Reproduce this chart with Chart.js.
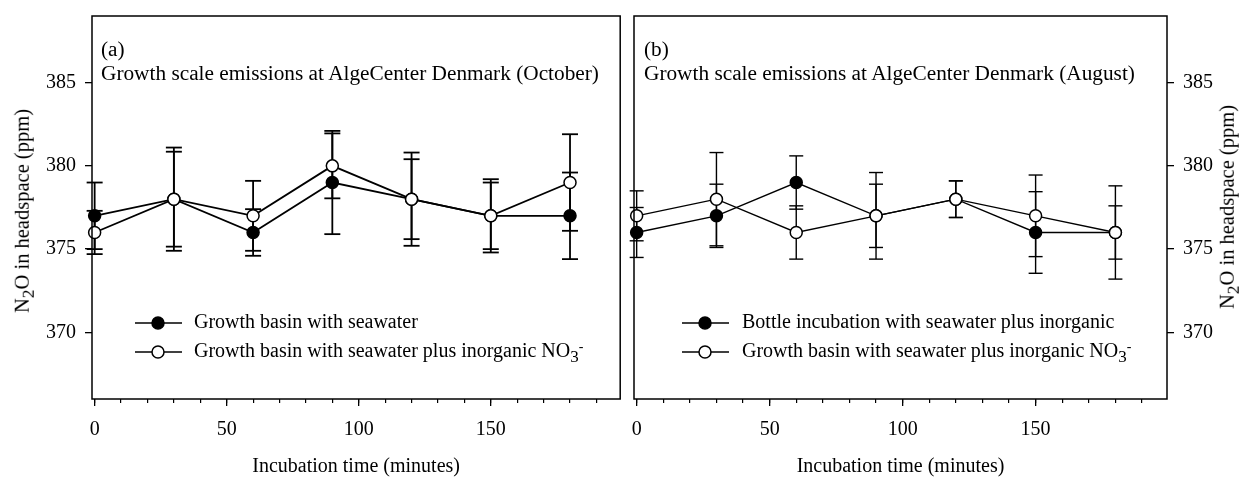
<!DOCTYPE html>
<html>
<head>
<meta charset="utf-8">
<script src="https://cdn.jsdelivr.net/npm/chart.js@4.4.0/dist/chart.umd.min.js"></script>
<style>
  html, body { margin: 0; padding: 0; background: #fff; }
  #page { position: relative; width: 1240px; height: 478px; overflow: hidden;
          font-family: 'Liberation Serif', 'Times New Roman', serif; color: #000; }
  canvas { position: absolute; top: 0; }
  .note { position: absolute; white-space: nowrap; line-height: 1; font-size: 21.3px; }
  .legend-text { position: absolute; white-space: nowrap; line-height: 1; font-size: 20px; }
  .legend-mark { position: absolute; }
  .ytitle { position: absolute; white-space: nowrap; line-height: 1; font-size: 20.5px;
            transform: translate(-50%, -50%) rotate(-90deg); }
  .lo { font-size: 0.85em; position: relative; top: 0.3em; }
  .hi { font-size: 0.7em; position: relative; top: -0.45em; }
</style>
</head>
<body>
<div id="page">
  <canvas id="chart-oct" width="630" height="478" style="left:0px"></canvas>
  <canvas id="chart-aug" width="620" height="478" style="left:620px"></canvas>

  <div class="note" style="left:101px;top:39px">(a)</div>
  <div class="note" style="left:101px;top:63px">Growth scale emissions at AlgeCenter Denmark (October)</div>
  <div class="note" style="left:644px;top:39px">(b)</div>
  <div class="note" style="left:644px;top:63px">Growth scale emissions at AlgeCenter Denmark (August)</div>

  <div class="ytitle" style="left:22px;top:211px">N<span class="lo">2</span>O in headspace (ppm)</div>
  <div class="ytitle" style="left:1227px;top:207px">N<span class="lo">2</span>O in headspace (ppm)</div>

  <div id="legend-oct"></div>
  <div id="legend-aug"></div>
</div>

<script>
// sampling times (minutes)
var times = [0, 30, 60, 90, 120, 150, 180];

// (a) October
var octSeawater    = [377, 378, 376, 379, 378, 377, 377];
var octSeawaterErr = [2.0, 3.1, 1.4, 3.1, 2.8, 2.2, 2.6];
var octNitrate     = [376, 378, 377, 380, 378, 377, 379];
var octNitrateErr  = [1.3, 2.85, 2.1, 1.95, 2.4, 2.0, 2.9];

// (b) August
var augBottle     = [376, 377, 379, 377, 378, 376, 376];
var augBottleErr  = [1.5, 1.9, 1.6, 2.6, 1.1, 2.45, 2.8];
var augNitrate    = [377, 378, 376, 377, 378, 377, 376];
var augNitrateErr = [1.5, 2.8, 1.6, 1.9, 1.1, 2.45, 1.6];

// tick labels
var xMajorTicks = [0, 50, 100, 150];
var xMinorTicks = [0, 10, 20, 30, 40, 50, 60, 70, 80, 90, 100, 110, 120, 130, 140, 150, 160, 170, 180, 190];
var yTicks = [370, 375, 380, 385];

var legendOct = ['Growth basin with seawater',
                 'Growth basin with seawater plus inorganic NO<span class="lo">3</span><span class="hi">-</span>'];
var legendAug = ['Bottle incubation with seawater plus inorganic',
                 'Growth basin with seawater plus inorganic NO<span class="lo">3</span><span class="hi">-</span>'];

var FONT = "'Liberation Serif', 'Times New Roman', serif";

function toPoints(xs, ys) {
    return xs.map(function (t, i) { return { x: t, y: ys[i] }; });
}

function errorBarPoints(xs, ys, errs) {
    var pts = [];
    xs.forEach(function (t, i) {
        pts.push({ x: t, y: ys[i] - errs[i] });
        pts.push({ x: t, y: ys[i] + errs[i] });
        pts.push({ x: t, y: null });
    });
    return pts;
}

function fixTicks(values) {
    return function (scale) {
        scale.ticks = values.map(function (v) { return { value: v }; });
    };
}

var frameBox = {
    id: 'frameBox',
    afterDatasetsDraw: function (chart) {
        var a = chart.chartArea;
        var ctx = chart.ctx;
        ctx.save();
        ctx.strokeStyle = '#000';
        ctx.lineWidth = 1.5;
        ctx.strokeRect(a.left, a.top, a.right - a.left, a.bottom - a.top);
        ctx.restore();
    }
};

function buildPanel(canvasId, opts) {
    var ctx = document.getElementById(canvasId).getContext('2d');
    var lw = opts.lineWidth;
    var datasets = [
        {
            data: toPoints(times, opts.open),
            borderColor: '#000', borderWidth: lw,
            pointRadius: 6, pointBorderWidth: 1.5,
            pointBackgroundColor: '#fff', pointBorderColor: '#000',
            order: 0, clip: false
        },
        {
            data: toPoints(times, opts.filled),
            borderColor: '#000', borderWidth: lw,
            pointRadius: 6, pointBorderWidth: 1.5,
            pointBackgroundColor: '#000', pointBorderColor: '#000',
            order: 1, clip: false
        },
        {
            data: errorBarPoints(times, opts.open, opts.openErr),
            borderColor: '#000', borderWidth: lw,
            pointStyle: 'line', pointRadius: opts.cap, pointBorderWidth: lw,
            pointBorderColor: '#000',
            order: 2, clip: false
        },
        {
            data: errorBarPoints(times, opts.filled, opts.filledErr),
            borderColor: '#000', borderWidth: lw,
            pointStyle: 'line', pointRadius: opts.cap, pointBorderWidth: lw,
            pointBorderColor: '#000',
            order: 3, clip: false
        }
    ];

    var tickGrid = { drawOnChartArea: false, color: '#000', lineWidth: 1.3, tickLength: 7 };

    function noPad(s) {
        s.paddingTop = 0; s.paddingBottom = 0; s.paddingLeft = 0; s.paddingRight = 0;
    }

    return new Chart(ctx, {
        type: 'line',
        data: { datasets: datasets },
        options: {
            responsive: false,
            animation: false,
            events: [],
            layout: { padding: opts.padding },
            plugins: { legend: { display: false }, tooltip: { enabled: false } },
            scales: {
                x: {
                    type: 'linear', position: 'bottom', weight: 1,
                    min: opts.xMin, max: opts.xMax,
                    afterBuildTicks: fixTicks(xMajorTicks),
                    afterFit: function (s) { s.height = 79; noPad(s); },
                    ticks: { color: '#000', font: { family: FONT, size: 20 }, padding: 12, maxRotation: 0 },
                    grid: tickGrid,
                    border: { display: false },
                    title: {
                        display: true, text: 'Incubation time (minutes)', color: '#000',
                        font: { family: FONT, size: 20, lineHeight: 1.1 }, padding: { top: 0, bottom: 0 }
                    }
                },
                xMinor: {
                    type: 'linear', position: 'bottom', weight: 0,
                    min: opts.xMin, max: opts.xMax,
                    afterBuildTicks: fixTicks(xMinorTicks),
                    afterFit: function (s) { s.height = 0; noPad(s); },
                    ticks: { display: false },
                    grid: { drawOnChartArea: false, color: '#000', lineWidth: 1.2, tickLength: 4 },
                    border: { display: false }
                },
                y: {
                    type: 'linear', position: opts.yPosition,
                    min: 366, max: 389,
                    afterBuildTicks: fixTicks(yTicks),
                    afterFit: function (s) { s.width = opts.yWidth; noPad(s); },
                    ticks: { color: '#000', font: { family: FONT, size: 20 }, padding: 9 },
                    grid: tickGrid,
                    border: { display: false }
                }
            }
        },
        plugins: [frameBox]
    });
}

function addLegend(holderId, labels, markLeft, textLeft) {
    var holder = document.getElementById(holderId);
    var rows = [311, 340];
    var fills = ['#000', '#fff'];
    labels.forEach(function (label, i) {
        var svg = '<svg class="legend-mark" width="48" height="16" style="left:' + markLeft + 'px;top:' + (rows[i] + 4) + 'px">' +
            '<line x1="0" y1="8" x2="47" y2="8" stroke="#000" stroke-width="1.6"/>' +
            '<circle cx="23" cy="8" r="6" fill="' + fills[i] + '" stroke="#000" stroke-width="1.5"/></svg>';
        holder.insertAdjacentHTML('beforeend', svg);
        var div = document.createElement('div');
        div.className = 'legend-text';
        div.style.left = textLeft + 'px';
        div.style.top = rows[i] + 'px';
        div.innerHTML = label;
        holder.appendChild(div);
    });
}

buildPanel('chart-oct', {
    filled: octSeawater, filledErr: octSeawaterErr,
    open: octNitrate, openErr: octNitrateErr,
    xMin: -1, xMax: 199,
    padding: { top: 16, right: 7, left: 0, bottom: 0 },
    yPosition: 'left', yWidth: 92,
    lineWidth: 1.8, cap: 8
});

buildPanel('chart-aug', {
    filled: augBottle, filledErr: augBottleErr,
    open: augNitrate, openErr: augNitrateErr,
    xMin: -1, xMax: 199.4,
    padding: { top: 16, right: 0, left: 14, bottom: 0 },
    yPosition: 'right', yWidth: 73,
    lineWidth: 1.4, cap: 7
});

addLegend('legend-oct', legendOct, 135, 194);
addLegend('legend-aug', legendAug, 682, 742);
</script>
</body>
</html>
